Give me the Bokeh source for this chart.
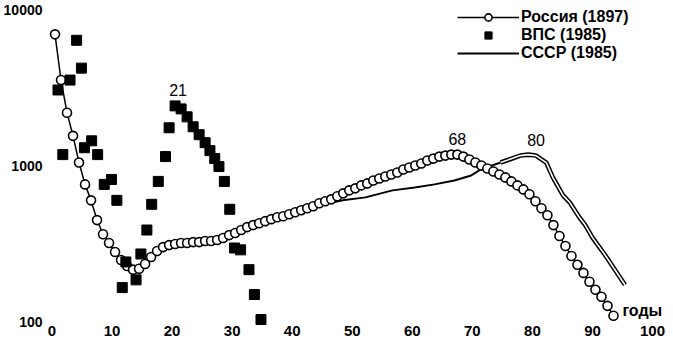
from bokeh.plotting import figure
from bokeh.models import (ColumnDataSource, FixedTicker, NumeralTickFormatter,
                          Legend, LegendItem, Label)
from bokeh.embed import file_html
from bokeh.resources import INLINE
from bokeh.core.properties import value

# ---- data ----
russia_age = [0.5, 1.5, 2.5, 3.5, 4.5, 5.5, 6.5, 7.5, 8.5, 9.5,
              10.5, 11.5, 12.5, 13.5, 14.5, 15.5, 16.5, 17.5, 18.5, 19.5,
              20.5, 21.5, 22.5, 23.5, 24.5, 25.5, 26.5, 27.5, 28.5, 29.5,
              30.5, 31.5, 32.5, 33.5, 34.5, 35.5, 36.5, 37.5, 38.5, 39.5,
              40.5, 41.5, 42.5, 43.5, 44.5, 45.5, 46.5, 47.5, 48.5, 49.5,
              50.5, 51.5, 52.5, 53.5, 54.5, 55.5, 56.5, 57.5, 58.5, 59.5,
              60.5, 61.5, 62.5, 63.5, 64.5, 65.5, 66.5, 67.5, 68.5, 69.5,
              70.5, 71.5, 72.5, 73.5, 74.5, 75.5, 76.5, 77.5, 78.5, 79.5,
              80.5, 81.5, 82.5, 83.5, 84.5, 85.5, 86.5, 87.5, 88.5, 89.5,
              90.5, 91.5, 92.5, 93.5]
russia_val = [6930, 3530, 2180, 1550, 1045, 757, 598, 447, 363, 319,
              279, 248, 227, 215, 218, 234, 259, 283, 300, 309,
              314, 319, 319, 323, 323, 328, 328, 333, 343, 358,
              369, 386, 403, 415, 427, 440, 453, 466, 473, 487,
              502, 517, 532, 548, 573, 590, 607, 635, 663, 693,
              714, 746, 768, 802, 826, 851, 876, 902, 943, 971,
              1000, 1030, 1076, 1108, 1141, 1158, 1175, 1175, 1141, 1092,
              1045, 1000, 957, 916, 876, 839, 791, 746, 703, 654,
              590, 532, 480, 415, 353, 305, 263, 231, 205, 180,
              160, 144, 126, 109]

vps_age = [1.0, 1.8, 3.0, 4.1, 4.9, 5.4, 6.6, 7.6, 8.7, 9.9, 10.8, 11.7,
           12.3, 14.0, 14.8, 15.8, 16.6, 17.7, 18.9, 19.5, 20.5, 21.5,
           22.5, 23.5, 24.5, 25.5, 26.3, 27.1, 27.8, 28.7, 29.6, 30.4,
           31.4, 32.8, 33.7, 34.8]
vps_val = [3050, 1175, 3530, 6350, 4210, 1300, 1440, 1175, 757, 814, 598, 165,
           241, 185, 271, 386, 564, 791, 1141, 1746, 2411, 2307,
           2051, 1772, 1576, 1401, 1246, 1108, 985, 791, 524, 296,
           288, 215, 149, 103]

ussr_age = [37.0, 40.7, 44.5, 48.4, 52.2, 56.7, 60.4, 63.7, 67.0, 69.8,
            71.4, 74.7, 78.0, 79.3, 80.6, 82.3, 83.4, 85.1, 86.2, 87.8,
            88.8, 90.0, 92.1, 95.4]
ussr_val = [466, 500, 556, 598, 625, 693, 724, 757, 802, 864,
            943, 1045, 1158, 1175, 1158, 1045, 839, 644, 581, 466,
            415, 345, 267, 172]

x_ticks = [0, 10, 20, 30, 40, 50, 60, 70, 80, 90, 100]
y_ticks = [100, 1000, 10000]

peak_labels = ["21", "68", "80"]
peak_x = [21, 67.5, 80.6]
peak_y = [2411, 1175, 1158]

series_names = ["Россия (1897)", "ВПС (1985)", "СССР (1985)"]
unit_label = "годы"

FONT = "Liberation Sans"

p = figure(width=665, height=341, y_axis_type="log",
           x_range=(-1.249, 102.16), y_range=(94.3, 11425),
           output_backend="svg", toolbar_location=None,
           min_border_left=0, min_border_right=0,
           min_border_top=0, min_border_bottom=16)
p.outline_line_color = None
p.grid.visible = False
p.background_fill_color = "white"

for ax in (p.xaxis[0], p.yaxis[0]):
    ax.axis_line_color = None
    ax.major_tick_line_color = None
    ax.minor_tick_line_color = None
    ax.major_tick_out = 0
    ax.major_tick_in = 0
    ax.major_label_text_font = FONT
    ax.major_label_text_font_style = "bold"
    ax.major_label_text_color = "black"

p.yaxis.major_label_standoff = 2
p.xaxis.major_label_standoff = 0
p.xaxis.ticker = FixedTicker(ticks=x_ticks, minor_ticks=[])
p.yaxis.ticker = FixedTicker(ticks=y_ticks, minor_ticks=[])
p.yaxis.formatter = NumeralTickFormatter(format="0")
p.xaxis.major_label_text_font_size = "15px"
p.yaxis.major_label_text_font_size = "14px"

# USSR line (single part + hollow double part)
split = 11
u_line = p.line(ussr_age, ussr_val, line_color="black", line_width=2)
p.line(ussr_age[split:], ussr_val[split:], line_color="black", line_width=4.6)
p.line(ussr_age[split:], ussr_val[split:], line_color="white", line_width=1.6)

src_r = ColumnDataSource(dict(x=russia_age, y=russia_val))
r_line = p.line("x", "y", source=src_r, line_color="black", line_width=1.5)
r_pts = p.scatter("x", "y", source=src_r, marker="circle", size=9,
                  fill_color="white", line_color="black", line_width=1.6)

v_pts = p.scatter(vps_age, vps_val, marker="square", size=10,
                  fill_color="black", line_color="black")

src_pk = ColumnDataSource(dict(x=peak_x, y=peak_y, t=peak_labels))
p.text("x", "y", text="t", source=src_pk, y_offset=-16,
       text_align="center", text_baseline="middle",
       text_font=value(FONT), text_font_size="16px", text_color="black")

p.add_layout(Label(x=98.3, y=117, text=unit_label, text_align="center",
                   text_baseline="middle", text_font=FONT,
                   text_font_size="16px", text_font_style="bold",
                   text_color="black"))

legend = Legend(items=[
    LegendItem(label=series_names[0], renderers=[r_line, r_pts]),
    LegendItem(label=series_names[1], renderers=[v_pts]),
    LegendItem(label=series_names[2], renderers=[u_line]),
], location=(413, 263))
legend.glyph_width = 62
legend.glyph_height = 18
legend.label_height = 18
legend.spacing = 0
legend.padding = 0
legend.margin = 0
legend.label_standoff = 2
legend.border_line_color = None
legend.background_fill_alpha = 0
legend.label_text_font = FONT
legend.label_text_font_size = "16px"
legend.label_text_font_style = "bold"
legend.label_text_color = "black"
p.add_layout(legend)

open("out.html", "w").write(file_html(p, INLINE))
